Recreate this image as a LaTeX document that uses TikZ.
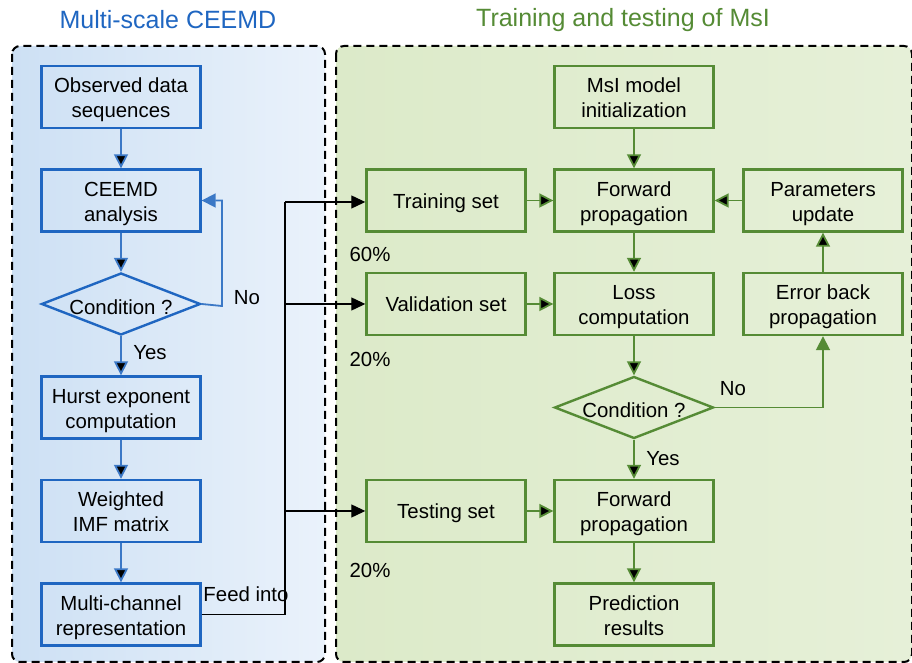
\documentclass[tikz,border=0pt]{standalone}
\usepackage{fontspec}
\setmainfont{Liberation Sans}
\usepackage{tikz}
\usetikzlibrary{positioning,shapes.geometric,arrows.meta,calc}
\definecolor{ceemdblue}{HTML}{1F66C1}
\definecolor{arrowblue}{HTML}{3B78C6}
\definecolor{msigreen}{HTML}{558B35}
\definecolor{panelblueL}{HTML}{CDE0F4}
\definecolor{panelblueR}{HTML}{EAF2FB}
\definecolor{panelgreenL}{HTML}{DCEAC9}
\definecolor{panelgreenR}{HTML}{E6F0D8}

\begin{document}
\begin{tikzpicture}[x=0.5pt,y=-0.5pt,on grid,node distance=51.75pt,
  font=\fontsize{10.2}{12.5}\selectfont,
  panel/.style={draw=black,line width=1pt,dash pattern=on 4pt off 2.5pt,rounded corners=4pt},
  twoline/.style={execute at begin node={\rule[-2.2pt]{0pt}{25.3pt}}},
  oneline/.style={execute at begin node={\rule[-2.2pt]{0pt}{12.3pt}}},
  boxbase/.style={draw,line width=1.2pt,minimum width=79.5pt,minimum height=31pt,
    align=center,inner sep=0pt},
  bbox/.style={boxbase,draw=ceemdblue,twoline},
  gbox/.style={boxbase,draw=msigreen,twoline},
  gbox1/.style={boxbase,draw=msigreen,oneline},
  bdia/.style={diamond,draw=ceemdblue,line width=1.2pt,aspect=2.56,minimum width=79.5pt,
    minimum height=31pt,inner sep=0pt},
  gdia/.style={bdia,draw=msigreen},
  cond/.style={label={[yshift=-1.5pt]center:Condition ?}},
  barrow/.style={draw=arrowblue,line width=0.9pt,-{Triangle[length=7pt,width=7pt]}},
  garrow/.style={draw=msigreen,line width=0.9pt,-{Triangle[length=7pt,width=7pt]}},
  feed/.style={draw=black,line width=0.6pt},
  feedarrow/.style={feed,-{Triangle[length=7pt,width=6.5pt]}}]
  \useasboundingbox (0,0) rectangle (912,663);

  % panels and titles
  \draw[panel,left color=panelblueL,right color=panelblueR] (12,46) rectangle (325,662);
  \draw[panel,left color=panelgreenL,right color=panelgreenR] (336,46) rectangle (912,662);
  \node[text=ceemdblue,font=\fontsize{12.5}{15}\selectfont] (ltitle) at (168,20) {Multi-scale CEEMD};
  \node[text=msigreen,font=\fontsize{12.5}{15}\selectfont] (rtitle) at (623,20) {Training and testing of MsI};

  % Multi-scale CEEMD
  \node[bbox] (obs) at (121,97) {Observed data\\sequences};
  \node[bbox] (ceemd) [below = of obs] {CEEMD\\analysis};
  \node[bdia,cond] (cond1) [below = of ceemd] {};
  \node[bbox] (hurst) [below = of cond1] {Hurst exponent\\computation};
  \node[bbox] (imf) [below = of hurst] {Weighted\\IMF matrix};
  \node[bbox] (multi) [below = of imf] {Multi-channel\\representation};

  % Training and testing of MsI
  \node[gbox] (init) at (634,97) {MsI model\\initialization};
  \node[gbox] (fwd1) [below = of init] {Forward\\propagation};
  \node[gbox] (loss) [below = of fwd1] {Loss\\computation};
  \node[gdia,cond] (cond2) [below = of loss] {};
  \node[gbox] (fwd2) [below = of cond2] {Forward\\propagation};
  \node[gbox] (pred) [below = of fwd2] {Prediction\\results};

  \node[gbox1] (train) [left = 94pt of fwd1] {Training set};
  \node[gbox1] (valid) [left = 94pt of loss] {Validation set};
  \node[gbox1] (test) [left = 94pt of fwd2] {Testing set};
  \node[gbox] (param) [right = 94.5pt of fwd1] {Parameters\\update};
  \node[gbox] (errbp) [right = 94.5pt of loss] {Error back\\propagation};

  % labels
  \node (no1) at (247,298) {No};
  \node (yes1) at (150,353) {Yes};
  \node (feedlbl) at (246,594) {Feed into};
  \node (p60) at (370,254) {60\%};
  \node (p20a) at (370,359) {20\%};
  \node (p20b) at (370,570) {20\%};
  \node (no2) at (733,389) {No};
  \node (yes2) at (663,459) {Yes};

  \coordinate (loopback) at (222,306);
  \coordinate (bustop) at (285,202);

  \path[barrow]
  (obs) edge (ceemd)
  (ceemd) edge (cond1)
  (cond1) edge (hurst)
  (hurst) edge (imf)
  (imf) edge (multi);
  \draw[barrow] (cond1.east) -- (loopback) |- (ceemd.east);

  \path[garrow]
  (init) edge (fwd1)
  (fwd1) edge (loss)
  (loss) edge (cond2)
  (cond2) edge (fwd2)
  (fwd2) edge (pred)
  (train) edge (fwd1)
  (valid) edge (loss)
  (test) edge (fwd2)
  (errbp) edge (param)
  (param) edge (fwd1);
  \draw[garrow] (cond2.east) -| (errbp.south);

  \draw[feed] (multi.east) -| (bustop);
  \draw[feedarrow] (bustop) -- (bustop -| train.west);
  \draw[feedarrow] (bustop |- valid.west) -- (valid.west);
  \draw[feedarrow] (bustop |- test.west) -- (test.west);
\end{tikzpicture}
\end{document}
